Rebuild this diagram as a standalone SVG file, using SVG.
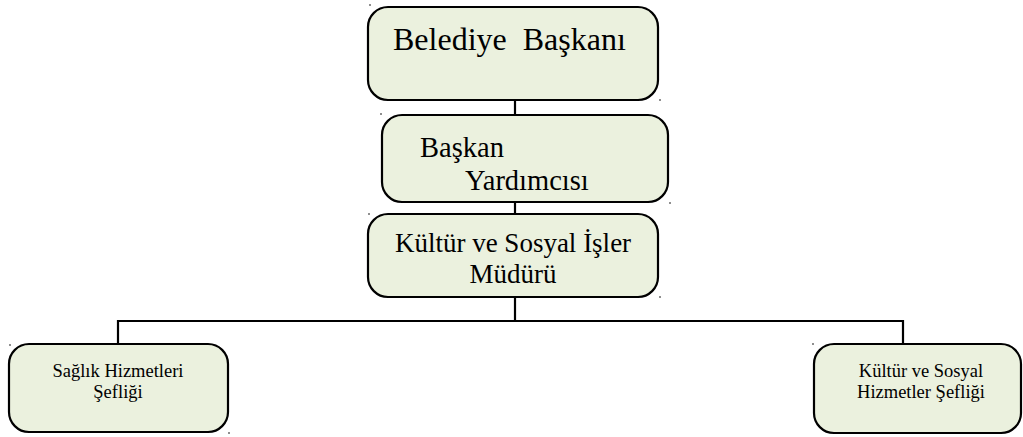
<svg xmlns="http://www.w3.org/2000/svg" width="1023" height="437" viewBox="0 0 1023 437">
<style>
.box{fill:#EBF1DE;stroke:#000;stroke-width:2.2}
.t{font-family:"Liberation Serif","Times New Roman",serif;fill:#000}
.c{stroke:#000;stroke-width:2.2;fill:none}
.dot{fill:#000}
</style>
<rect width="1023" height="437" fill="#fff"/>
<g id="connectors">
<line class="c" x1="515" y1="100" x2="515" y2="115"/>
<line class="c" x1="515" y1="202" x2="515" y2="214"/>
<line class="c" x1="515" y1="297" x2="515" y2="321"/>
<polyline class="c" points="118,344 118,321 903,321 903,344"/>
</g>
<g id="n1">
<rect class="box" x="368" y="7" width="290" height="93" rx="20"/>
<text class="t" x="393" y="50" font-size="32" xml:space="preserve">Belediye  Başkanı</text>
<circle class="dot" cx="370" cy="5" r="0.8"/><circle class="dot" cx="660" cy="100" r="0.8"/>
</g>
<g id="n2">
<rect class="box" x="382" y="115" width="286" height="87" rx="20"/>
<text class="t" x="420" y="157" font-size="28.5">Başkan</text>
<text class="t" x="465" y="190" font-size="28.5">Yardımcısı</text>
<circle class="dot" cx="381" cy="114" r="0.8"/><circle class="dot" cx="670" cy="203" r="0.8"/>
</g>
<g id="n3">
<rect class="box" x="368" y="214" width="290" height="83" rx="20"/>
<text class="t" x="513" y="252" font-size="27" text-anchor="middle">Kültür ve Sosyal İşler</text>
<text class="t" x="513" y="283" font-size="27" text-anchor="middle">Müdürü</text>
<circle class="dot" cx="369" cy="214" r="0.8"/><circle class="dot" cx="660" cy="297" r="0.8"/>
</g>
<g id="n4">
<rect class="box" x="9" y="344" width="219" height="88" rx="20"/>
<text class="t" x="118" y="377" font-size="18.5" text-anchor="middle">Sağlık Hizmetleri</text>
<text class="t" x="118" y="398" font-size="18.5" text-anchor="middle">Şefliği</text>
<circle class="dot" cx="10" cy="345" r="0.8"/><circle class="dot" cx="229" cy="433" r="0.8"/>
</g>
<g id="n5">
<rect class="box" x="814" y="344" width="207" height="89" rx="20"/>
<text class="t" x="921" y="377" font-size="18.5" text-anchor="middle">Kültür ve Sosyal</text>
<text class="t" x="921" y="398" font-size="18.5" text-anchor="middle">Hizmetler Şefliği</text>
<circle class="dot" cx="813" cy="344" r="0.8"/>
</g>
</svg>
